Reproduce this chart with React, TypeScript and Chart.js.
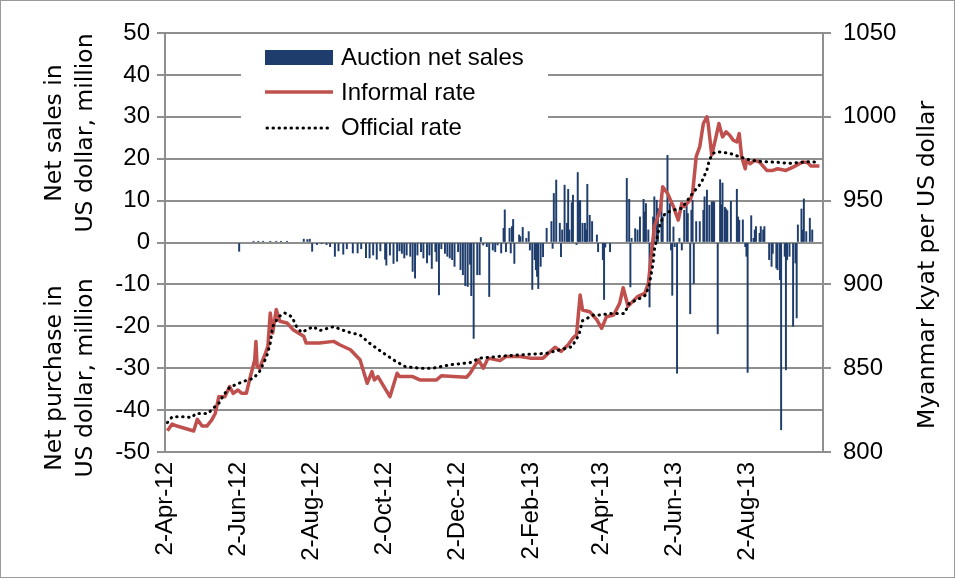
import { useEffect, useRef } from 'react';
import { Chart, registerables } from 'chart.js';

Chart.register(...registerables);

// x positions are days counted from 2-Apr-12
const tickLabels = ['2-Apr-12', '2-Jun-12', '2-Aug-12', '2-Oct-12', '2-Dec-12', '2-Feb-13', '2-Apr-13', '2-Jun-13', '2-Aug-13'];
const tickDays = [0, 61, 122, 183, 244, 306, 365, 426, 487];

const seriesLabels = ['Auction net sales', 'Informal rate', 'Official rate'];
const leftTitleTop = ['Net sales in', 'US dollar, million'];
const leftTitleBottom = ['Net purchase in', 'US dollar, million'];
const rightTitle = 'Myanmar kyat per US dollar';

const barDays = [
  62, 74, 78, 82, 88, 93, 97, 102, 116, 119, 121, 123, 127, 131, 135, 138, 142, 145, 149, 152, 157, 161, 164, 168, 171, 174, 177, 180, 184, 185, 188, 191, 194, 196,
  198, 200, 202, 205, 207, 209, 211, 214, 216, 219, 221, 223, 226, 227, 229, 231, 234, 236, 238, 240, 242, 245, 247, 249, 251, 253, 255, 256, 258, 261, 263, 264, 266, 269, 271, 274, 276, 278, 281,
  283, 284, 285, 288, 289, 290, 291, 292, 296, 297, 299, 302, 304, 305, 307, 309, 310, 311, 312, 314, 316, 319, 323, 324, 325, 327, 330, 331, 332, 334, 336, 337, 338, 340, 341, 344, 345, 346, 347, 349, 351, 352, 353, 355, 357, 361, 362, 366, 367, 368, 372,
  386, 388, 389, 390, 393, 395, 397, 400, 401, 402, 404, 405, 408, 409, 411, 412, 415, 416, 420, 422, 423, 424, 425, 426, 428, 430, 432, 434, 436, 437, 439, 440, 441, 442, 444, 447, 450, 451, 453, 455, 457, 458, 459, 462,
  464, 465, 466, 468, 469, 470, 473, 478, 479, 480, 483, 485, 486, 487, 490, 492, 493, 494, 497, 498, 500, 501, 505, 507, 508, 511, 512, 514, 515, 518, 519, 520, 522, 525, 527, 528, 529, 532, 533, 534, 536, 539, 541,
];
const barValues = [
  -2.1, 0.3, 0.3, 0.3, 0.3, 0.3, 0.3, 0.3, 0.8, 0.7, 0.8, -2.1, -0.5, -0.3, -0.5, -1, -3.3, -2, -2.8, -1.5, -2.5, -2.5, -1.5, -3.6, -3.7, -3, -4, -2, -4, -5.4, -3, -5, -4.5, -2,
  -2.6, -3.7, -3, -3.3, -6.9, -8.5, -3, -2.2, -3.7, -4.9, -3, -6.2, -2.2, -4.5, -12.5, -1.5, -2.6, -3.3, -3.7, -4.1, -5.7, -2.2, -6.5, -7.7, -10.3, -10.5, -5.2, -12.7, -22.9, -7.7, -7.7, 1.2, -0.6, -1, -12.9, -1.8, -2.2, -0.6, -2.5,
  3.4, 7.8, -2.2, 3.4, -2.5, 3.8, 5.5, -5, 1.8, 1.4, 3.6, 1, 2.6, -1.8, -11.2, -4.1, -6.5, -8.1, -11, -5.7, -3.4, 3.4, 5, -1.4, 11.7, 14.9, 4.6, -3.4, 3, 13.7, 4.6, 12.7, 3, 9.5, 11.3, -0.5, 16.7, 10, 10, 4.6, 4.6, 3, 13.9, 6.5, 5, 1.8, -2.2, -4.1, -13.6, -1.1, -2.2,
  15.3, 10.3, -10.6, 1, 3.3, 3, 6.1, 10.3, 7.3, 9.3, 3, -15.4, 6.1, 10.9, 10.1, 8.1, 10.9, 6.1, 20.8, 9.3, -1.8, -12.6, 3.7, -1, -31.2, 1, -1.8, 7.7, 9.3, 6.9, -17, 7.7, 10.1, -9.8, 5, 5, 7.7, 10.9, 12.5, 8.9, 9.7, 9.7, 9.7, -21.8,
  15, 9, 14.2, 8.4, 8, 7.6, 9.8, 12.7, 6.1, 5.3, 5.4, -1, -3.3, -31, 6.4, 1, 3, 3.8, 2.2, 3.8, 3, 3.8, -4.1, -5.7, -2.6, -6.1, -6.5, -8.9, -44.7, -3.3, -30.4, -4.1, -3.3, -20, -4.9, -18, 4.2, 8, 3, 10.4, 2.6, 5.8, 3,
];

const informalDays = [
  2, 6, 10, 24, 27, 31, 35, 39, 42, 45, 50, 54, 57, 61, 64, 68, 71, 75, 76, 77, 79, 84, 86, 88, 90, 93, 96, 102, 107, 116, 118, 129, 141, 146, 155, 163, 169, 173, 175, 178, 188, 194, 196, 207, 213,
  227, 231, 241, 252, 255, 262, 266, 270, 280, 285, 297, 305, 316, 326, 331, 337, 341, 344, 347, 349, 355, 361, 365, 369, 375, 380, 383, 387, 395, 401, 404, 407, 409, 414, 416, 420, 425, 429, 432, 434, 439, 441,
  444, 447, 450, 453, 454, 457, 460, 463, 466, 469, 472, 475, 478, 480, 482, 485, 486, 489, 493, 497, 503, 508, 512, 519, 525, 533, 537, 540, 547,
];
const informalRate = [
  812.7, 816.7, 815.5, 812.5, 819.5, 815.5, 815.5, 819, 823, 833, 833, 839, 835, 837, 835, 835, 844, 855, 866, 851, 850, 859, 863, 883, 871, 885, 878, 877, 873, 869, 865, 865, 866, 864, 861, 855, 841, 848, 843, 845, 833, 847, 845, 845, 843,
  843, 845.5, 845, 844.6, 847, 855, 850, 856, 854.5, 857, 857, 856, 856, 862.5, 860, 864, 868, 870, 893.7, 884.7, 883.7, 878.8, 873.8, 880.7, 881.7, 888.7, 898, 887, 892.7, 894.7, 900.6, 920.5, 934.4, 944.4, 958.3, 954.4, 946.4, 938.4, 948.4, 946.4, 950.4, 954.4,
  976.2, 982.2, 996, 1000, 996, 977.2, 986.2, 996, 988, 991, 989, 986, 985, 990, 976, 969, 974, 972, 974, 973, 968, 968, 969, 968, 970, 973, 972.7, 970.6, 970.6,
];

const officialDays = [
  2, 6, 17, 22, 26, 36, 40, 45, 49, 54, 65, 74, 79, 85, 88, 90, 95, 100, 106, 110, 114, 124, 129, 141, 152, 163, 171, 181, 191, 201, 213, 224, 238, 255, 263, 283, 305, 319, 330, 340, 346, 349, 358, 363, 373, 384,
  388, 397, 402, 405, 408, 409, 414, 418, 425, 432, 437, 441, 448, 453, 455, 458, 462, 472, 480, 489, 500, 513, 522, 530, 539, 547,
];
const officialRate = [
  817.5, 821, 821, 820.5, 823, 823, 826, 829, 834, 838.6, 842, 844, 848, 857, 865, 874.8, 880.7, 883, 880.7, 874.8, 871.4, 874.8, 872.4, 874.8, 871.8, 869.8, 864.9, 859.8, 854.9, 850.9, 850, 850, 852, 853.3, 856, 857.3, 858.3, 858.9, 860.9, 862.8, 869.8, 878.3, 881.7, 881.7, 882.7, 882.7,
  888.7, 891.7, 893.7, 900.6, 912.6, 920.5, 936.5, 942.4, 944.4, 945.4, 950.4, 954.4, 960.3, 968.3, 974.2, 978.2, 979.2, 978.2, 976.2, 974.2, 973.2, 972.8, 972.2, 972.8, 973.2, 972.8,
];

const BAR_COLOR = '#1F3D6C';
const RED = '#C0504D';
const GRID = '#8f8f8f';
const TICK_FONT = { family: '"Liberation Sans", Arial, sans-serif', size: 24 };

const overlayPlugin = {
  id: 'overlay',
  afterDraw(chart: any) {
    const ctx = chart.ctx as CanvasRenderingContext2D;
    const a = chart.chartArea;
    ctx.save();
    // legend box
    ctx.fillStyle = '#ffffff';
    ctx.fillRect(a.left + 76, a.top + 4, 307, 113);
    const sx = a.left + 100;
    const sw = 68;
    ctx.fillStyle = BAR_COLOR;
    ctx.fillRect(sx, a.top + 17, sw, 15);
    ctx.strokeStyle = RED;
    ctx.lineWidth = 3.5;
    ctx.beginPath();
    ctx.moveTo(sx, a.top + 59);
    ctx.lineTo(sx + sw, a.top + 59);
    ctx.stroke();
    ctx.strokeStyle = '#000';
    ctx.lineWidth = 3;
    ctx.lineCap = 'round';
    ctx.setLineDash([0.5, 5.5]);
    ctx.beginPath();
    ctx.moveTo(sx + 2, a.top + 95);
    ctx.lineTo(sx + sw, a.top + 95);
    ctx.stroke();
    ctx.setLineDash([]);
    ctx.fillStyle = '#000';
    ctx.font = '24px "Liberation Sans", Arial, sans-serif';
    ctx.textAlign = 'left';
    ctx.textBaseline = 'middle';
    ctx.fillText(seriesLabels[0], sx + 76, a.top + 25);
    ctx.fillText(seriesLabels[1], sx + 76, a.top + 60);
    ctx.fillText(seriesLabels[2], sx + 76, a.top + 95);

    // axis titles
    ctx.font = '23.5px "DejaVu Sans", Verdana, sans-serif';
    ctx.textAlign = 'center';
    const rot = (t: string, x: number, y: number) => {
      ctx.save();
      ctx.translate(x, y);
      ctx.rotate(-Math.PI / 2);
      ctx.fillText(t, 0, 0);
      ctx.restore();
    };
    rot(leftTitleTop[0], 55, 133);
    rot(leftTitleTop[1], 86, 133);
    rot(leftTitleBottom[0], 55, 378);
    rot(leftTitleBottom[1], 86, 378);
    rot(rightTitle, 928, 265);

    // outer frame
    ctx.strokeStyle = '#9a9a9a';
    ctx.lineWidth = 1;
    ctx.strokeRect(0.5, 0.5, chart.width - 1, chart.height - 1);
    ctx.restore();
  },
};

export default function App() {
  const ref = useRef<HTMLCanvasElement | null>(null);

  useEffect(() => {
    document.body.style.margin = '0';
    const canvas = ref.current;
    if (!canvas) return;
    Chart.defaults.color = '#000';

    const barData = barDays.map((d, i) => ({ x: d, y: barValues[i] }));
    const informalData = informalDays.map((d, i) => ({ x: d, y: informalRate[i] }));
    const officialData = officialDays.map((d, i) => ({ x: d, y: officialRate[i] }));

    const chart = new Chart(canvas, {
      type: 'bar',
      data: {
        datasets: [
          {
            type: 'bar',
            label: seriesLabels[0],
            data: barData as any,
            backgroundColor: BAR_COLOR,
            barThickness: 1.3,
            grouped: false,
            yAxisID: 'y',
            order: 2,
          } as any,
          {
            type: 'line',
            label: seriesLabels[1],
            data: informalData as any,
            borderColor: RED,
            borderWidth: 3.5,
            pointRadius: 0,
            tension: 0,
            borderJoinStyle: 'round',
            yAxisID: 'y1',
            order: 1,
          } as any,
          {
            type: 'line',
            label: seriesLabels[2],
            data: officialData as any,
            borderColor: '#000',
            borderWidth: 3,
            borderDash: [0.5, 5.5],
            borderCapStyle: 'round',
            pointRadius: 0,
            tension: 0,
            yAxisID: 'y1',
            order: 0,
          } as any,
        ],
      },
      options: {
        responsive: false,
        animation: false,
        devicePixelRatio: 1,
        layout: { padding: { top: 33, left: 0, right: 0, bottom: 0 } },
        plugins: { legend: { display: false }, tooltip: { enabled: false } },
        scales: {
          x: {
            type: 'linear',
            min: 0,
            max: 550,
            offset: false,
            grid: { display: false, drawTicks: false },
            border: { display: false },
            afterBuildTicks: (s: any) => {
              s.ticks = tickDays.map((v) => ({ value: v }));
            },
            afterFit: (s: any) => {
              s.height = 126;
            },
            ticks: {
              autoSkip: false,
              minRotation: 90,
              maxRotation: 90,
              padding: 10,
              color: '#000',
              font: TICK_FONT,
              callback: (v: any) => {
                const i = tickDays.indexOf(Number(v));
                return i >= 0 ? tickLabels[i] : '';
              },
            },
          },
          y: {
            position: 'left',
            min: -50,
            max: 50,
            afterFit: (s: any) => {
              s.width = 165;
            },
            ticks: { stepSize: 10, padding: 7, color: '#000', font: TICK_FONT, callback: (v: any) => String(v) },
            grid: { color: GRID, lineWidth: 2, tickLength: 8 },
            border: { color: GRID, width: 2 },
          },
          y1: {
            position: 'right',
            min: 800,
            max: 1050,
            afterFit: (s: any) => {
              s.width = 132;
            },
            ticks: { stepSize: 50, padding: 12, color: '#000', font: TICK_FONT, callback: (v: any) => String(v) },
            grid: { drawOnChartArea: false, color: GRID, lineWidth: 2, tickLength: 8 },
            border: { color: GRID, width: 2 },
          },
        },
      } as any,
      plugins: [overlayPlugin],
    });
    return () => chart.destroy();
  }, []);

  return <canvas ref={ref} width={955} height={578} style={{ display: 'block' }} />;
}
